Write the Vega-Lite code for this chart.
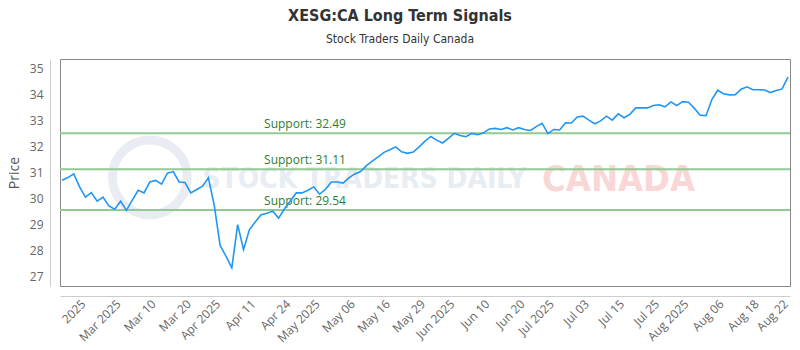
{
  "$schema": "https://vega.github.io/schema/vega-lite/v6.json",
  "width": 730,
  "height": 227,
  "autosize": {"type": "none"},
  "padding": {"left": 60, "top": 59, "right": 10, "bottom": 64},
  "background": "white",
  "title": {
    "text": "XESG:CA Long Term Signals",
    "subtitle": "Stock Traders Daily Canada",
    "anchor": "middle",
    "dx": -25,
    "offset": 14,
    "font": "Liberation Sans Narrow, DejaVu Sans Condensed, Roboto",
    "fontSize": 16,
    "fontWeight": "bold",
    "color": "#333333",
    "subtitleFont": "Liberation Sans Narrow, DejaVu Sans Condensed, Roboto",
    "subtitleFontSize": 12,
    "subtitleColor": "#333333",
    "subtitlePadding": 10
  },
  "config": {
    "view": {"stroke": "#888888", "strokeWidth": 1},
    "font": "Open Sans",
    "axisY": {
      "labelOverlap": false,
      "offset": 10,
      "ticks": false,
      "domainColor": "#cccccc",
      "gridColor": "#e6e6e6",
      "gridDash": [2, 3],
      "labelColor": "#666666",
      "labelFontSize": 12,
      "labelPadding": 7,
      "labelFont": "Open Sans",
      "titleFont": "Open Sans",
      "titleFontSize": 14,
      "titleFontWeight": "normal",
      "titleColor": "#555555",
      "titlePadding": 8
    }
  },
  "datasets": {
    "prices": [
      {"date": "2025-02-25", "close": 30.69}, {"date": "2025-02-26", "close": 30.79}, {"date": "2025-02-27", "close": 30.93}, {"date": "2025-02-28", "close": 30.43},
      {"date": "2025-03-03", "close": 30.04}, {"date": "2025-03-04", "close": 30.21}, {"date": "2025-03-05", "close": 29.88}, {"date": "2025-03-06", "close": 30.04},
      {"date": "2025-03-07", "close": 29.70}, {"date": "2025-03-10", "close": 29.57}, {"date": "2025-03-11", "close": 29.88}, {"date": "2025-03-12", "close": 29.53},
      {"date": "2025-03-13", "close": 29.92}, {"date": "2025-03-14", "close": 30.30}, {"date": "2025-03-17", "close": 30.20}, {"date": "2025-03-18", "close": 30.62},
      {"date": "2025-03-19", "close": 30.68}, {"date": "2025-03-20", "close": 30.54}, {"date": "2025-03-21", "close": 30.96}, {"date": "2025-03-24", "close": 31.02},
      {"date": "2025-03-25", "close": 30.62}, {"date": "2025-03-26", "close": 30.60}, {"date": "2025-03-27", "close": 30.20}, {"date": "2025-03-28", "close": 30.33},
      {"date": "2025-03-31", "close": 30.46}, {"date": "2025-04-01", "close": 30.78}, {"date": "2025-04-02", "close": 29.72}, {"date": "2025-04-03", "close": 28.18},
      {"date": "2025-04-04", "close": 27.77}, {"date": "2025-04-07", "close": 27.32}, {"date": "2025-04-08", "close": 28.98}, {"date": "2025-04-09", "close": 28.02},
      {"date": "2025-04-10", "close": 28.78}, {"date": "2025-04-11", "close": 29.08}, {"date": "2025-04-14", "close": 29.36}, {"date": "2025-04-15", "close": 29.42},
      {"date": "2025-04-16", "close": 29.50}, {"date": "2025-04-17", "close": 29.23}, {"date": "2025-04-21", "close": 29.59}, {"date": "2025-04-22", "close": 29.89},
      {"date": "2025-04-23", "close": 30.20}, {"date": "2025-04-24", "close": 30.20}, {"date": "2025-04-25", "close": 30.30}, {"date": "2025-04-28", "close": 30.43},
      {"date": "2025-04-29", "close": 30.15}, {"date": "2025-04-30", "close": 30.34}, {"date": "2025-05-01", "close": 30.62}, {"date": "2025-05-02", "close": 30.62},
      {"date": "2025-05-05", "close": 30.58}, {"date": "2025-05-06", "close": 30.78}, {"date": "2025-05-07", "close": 30.93}, {"date": "2025-05-08", "close": 31.02},
      {"date": "2025-05-09", "close": 31.25}, {"date": "2025-05-12", "close": 31.42}, {"date": "2025-05-13", "close": 31.59}, {"date": "2025-05-14", "close": 31.76},
      {"date": "2025-05-15", "close": 31.86}, {"date": "2025-05-16", "close": 31.97}, {"date": "2025-05-20", "close": 31.78}, {"date": "2025-05-21", "close": 31.72},
      {"date": "2025-05-22", "close": 31.77}, {"date": "2025-05-23", "close": 31.97}, {"date": "2025-05-26", "close": 32.19}, {"date": "2025-05-27", "close": 32.37},
      {"date": "2025-05-28", "close": 32.23}, {"date": "2025-05-29", "close": 32.12}, {"date": "2025-05-30", "close": 32.30}, {"date": "2025-06-02", "close": 32.49},
      {"date": "2025-06-03", "close": 32.41}, {"date": "2025-06-04", "close": 32.36}, {"date": "2025-06-05", "close": 32.49}, {"date": "2025-06-06", "close": 32.44},
      {"date": "2025-06-09", "close": 32.51}, {"date": "2025-06-10", "close": 32.66}, {"date": "2025-06-11", "close": 32.68}, {"date": "2025-06-12", "close": 32.64},
      {"date": "2025-06-13", "close": 32.71}, {"date": "2025-06-16", "close": 32.62}, {"date": "2025-06-17", "close": 32.71}, {"date": "2025-06-18", "close": 32.64},
      {"date": "2025-06-19", "close": 32.60}, {"date": "2025-06-20", "close": 32.75}, {"date": "2025-06-23", "close": 32.88}, {"date": "2025-06-24", "close": 32.48},
      {"date": "2025-06-25", "close": 32.64}, {"date": "2025-06-26", "close": 32.62}, {"date": "2025-06-27", "close": 32.90}, {"date": "2025-06-30", "close": 32.89},
      {"date": "2025-07-02", "close": 33.12}, {"date": "2025-07-03", "close": 33.15}, {"date": "2025-07-04", "close": 33.00}, {"date": "2025-07-07", "close": 32.86},
      {"date": "2025-07-08", "close": 32.97}, {"date": "2025-07-09", "close": 33.15}, {"date": "2025-07-10", "close": 33.00}, {"date": "2025-07-11", "close": 33.24},
      {"date": "2025-07-14", "close": 33.09}, {"date": "2025-07-15", "close": 33.22}, {"date": "2025-07-16", "close": 33.47}, {"date": "2025-07-17", "close": 33.47},
      {"date": "2025-07-18", "close": 33.47}, {"date": "2025-07-21", "close": 33.56}, {"date": "2025-07-22", "close": 33.59}, {"date": "2025-07-23", "close": 33.51},
      {"date": "2025-07-24", "close": 33.70}, {"date": "2025-07-25", "close": 33.56}, {"date": "2025-07-28", "close": 33.71}, {"date": "2025-07-29", "close": 33.69},
      {"date": "2025-07-30", "close": 33.46}, {"date": "2025-07-31", "close": 33.19}, {"date": "2025-08-01", "close": 33.17}, {"date": "2025-08-05", "close": 33.79},
      {"date": "2025-08-06", "close": 34.15}, {"date": "2025-08-07", "close": 34.01}, {"date": "2025-08-08", "close": 33.97}, {"date": "2025-08-11", "close": 33.98},
      {"date": "2025-08-12", "close": 34.19}, {"date": "2025-08-13", "close": 34.28}, {"date": "2025-08-14", "close": 34.17}, {"date": "2025-08-15", "close": 34.17},
      {"date": "2025-08-18", "close": 34.16}, {"date": "2025-08-19", "close": 34.06}, {"date": "2025-08-20", "close": 34.14}, {"date": "2025-08-21", "close": 34.20},
      {"date": "2025-08-22", "close": 34.65}
    ],
    "supports": [
      {"level": 32.49, "label": "Support: 32.49"},
      {"level": 31.11, "label": "Support: 31.11"},
      {"level": 29.54, "label": "Support: 29.54"}
    ],
    "watermark": [
      {"part": "logo", "text": ""}
    ]
  },
  "data": {"name": "prices"},
  "encoding": {
    "x": {
      "field": "date",
      "type": "ordinal",
      "scale": {"type": "point", "padding": 0.35},
      "axis": {
        "title": null,
        "values": ["2025-02-28", "2025-03-10", "2025-03-18", "2025-03-26", "2025-04-02", "2025-04-10", "2025-04-21", "2025-04-28", "2025-05-06", "2025-05-14", "2025-05-23", "2025-05-30", "2025-06-09", "2025-06-17", "2025-06-24", "2025-07-03", "2025-07-11", "2025-07-21", "2025-07-28", "2025-08-06", "2025-08-14", "2025-08-21"],
        "labelExpr": "['2025','Mar 2025','Mar 10','Mar 20','Apr 2025','Apr 11','Apr 24','May 2025','May 06','May 16','May 29','Jun 2025','Jun 10','Jun 20','Jul 2025','Jul 03','Jul 15','Jul 25','Aug 2025','Aug 06','Aug 18','Aug 22'][indexof(['2025-02-28','2025-03-10','2025-03-18','2025-03-26','2025-04-02','2025-04-10','2025-04-21','2025-04-28','2025-05-06','2025-05-14','2025-05-23','2025-05-30','2025-06-09','2025-06-17','2025-06-24','2025-07-03','2025-07-11','2025-07-21','2025-07-28','2025-08-06','2025-08-14','2025-08-21'], datum.value)]",
        "labelAngle": -45,
        "labelFont": "Open Sans",
        "labelFontSize": 12,
        "labelColor": "#666666",
        "labelPadding": 2,
        "labelOverlap": false,
        "ticks": false,
        "grid": false,
        "offset": 10,
        "domainColor": "#cccccc"
      }
    }
  },
  "layer": [
    {
      "data": {"name": "watermark"},
      "mark": {"type": "point", "shape": "circle", "size": 5600, "filled": false, "stroke": "#e9edf3", "strokeWidth": 9, "opacity": 1},
      "encoding": {
        "x": {"datum": "2025-03-18"},
        "y": {"datum": 30.8, "type": "quantitative", "scale": {"domain": [26.62, 35.35], "nice": false, "zero": false}, "axis": {"title": "Price", "values": [27, 28, 29, 30, 31, 32, 33, 34, 35], "labelOverlap": false}}
      }
    },
    {
      "data": {"name": "watermark"},
      "mark": {"type": "text", "text": "STOCK TRADERS DAILY", "align": "left", "baseline": "middle", "font": "Liberation Sans Narrow, DejaVu Sans Condensed, Roboto", "fontSize": 28, "fontWeight": "bold", "color": "#e8ecf3"},
      "encoding": {
        "x": {"datum": "2025-03-31"},
        "y": {"datum": 30.69, "type": "quantitative", "scale": {"domain": [26.62, 35.35], "nice": false, "zero": false}, "axis": {"title": "Price", "values": [27, 28, 29, 30, 31, 32, 33, 34, 35], "labelOverlap": false}}
      }
    },
    {
      "data": {"name": "watermark"},
      "mark": {"type": "text", "text": "CANADA", "align": "left", "baseline": "middle", "font": "Liberation Sans Narrow, DejaVu Sans Condensed, Roboto", "fontSize": 36, "fontWeight": "bold", "color": "#fad7d7"},
      "encoding": {
        "x": {"datum": "2025-06-23"},
        "y": {"datum": 30.69, "type": "quantitative", "scale": {"domain": [26.62, 35.35], "nice": false, "zero": false}, "axis": {"title": "Price", "values": [27, 28, 29, 30, 31, 32, 33, 34, 35], "labelOverlap": false}}
      }
    },
    {
      "data": {"name": "supports"},
      "mark": {"type": "rule", "color": "#93c993", "strokeWidth": 2},
      "encoding": {
        "x": null,
        "y": {"field": "level", "type": "quantitative", "scale": {"domain": [26.62, 35.35], "nice": false, "zero": false}, "axis": {"title": "Price", "values": [27, 28, 29, 30, 31, 32, 33, 34, 35], "labelOverlap": false}}
      }
    },
    {
      "data": {"name": "supports"},
      "mark": {"type": "text", "align": "left", "baseline": "middle", "dy": -9, "dx": 3, "font": "Open Sans", "fontSize": 12, "color": "#2e7d32"},
      "encoding": {
        "x": {"datum": "2025-04-14"},
        "y": {"field": "level", "type": "quantitative", "scale": {"domain": [26.62, 35.35], "nice": false, "zero": false}, "axis": {"title": "Price", "values": [27, 28, 29, 30, 31, 32, 33, 34, 35], "labelOverlap": false}},
        "text": {"field": "label"}
      }
    },
    {
      "mark": {"type": "line", "color": "#2196f3", "strokeWidth": 1.6},
      "encoding": {
        "y": {
          "field": "close",
          "type": "quantitative",
          "scale": {"domain": [26.62, 35.35], "nice": false, "zero": false},
          "axis": {"title": "Price", "values": [27, 28, 29, 30, 31, 32, 33, 34, 35], "labelOverlap": false}
        }
      }
    }
  ]
}
